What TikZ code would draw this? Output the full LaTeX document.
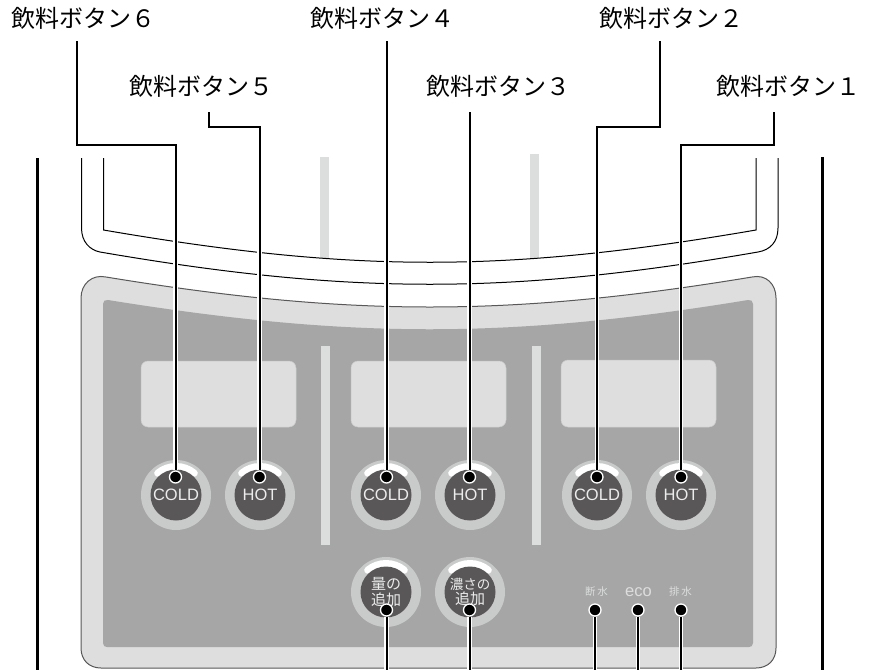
\documentclass[tikz,border=0pt]{standalone}
\usepackage{fontspec}
\setmainfont{Noto Sans CJK JP}
\newfontfamily\latinfont{Liberation Sans}
\definecolor{panelgrey}{HTML}{DEDEDE}
\definecolor{innergrey}{HTML}{A6A6A6}
\definecolor{ringgrey}{HTML}{C9CACA}
\definecolor{facegrey}{HTML}{595757}
\definecolor{bargrey}{HTML}{DCDDDD}
\definecolor{facetext}{HTML}{ECECEC}

\begin{document}
\begin{tikzpicture}[x=1pt,y=-1pt]
	\tikzset{caption/.style={inner sep=0pt,minimum height=24pt,font=\fontsize{24}{24}\selectfont}}
	\tikzset{leader/.style={draw=white,double=black,line width=1.25pt,double distance=2pt}}
	\tikzset{leaddot/.style={circle,draw=white,fill=black,line width=1.3pt,inner sep=0pt,minimum size=12pt}}
	\tikzset{ring/.style={circle,fill=ringgrey,inner sep=0pt,minimum size=70pt}}
	\tikzset{face/.style={circle,fill=facegrey,text=facetext,inner sep=0pt,minimum size=51pt,align=center}}
	\tikzset{glow/.style={draw=white,line width=7pt,line cap=round}}
	\tikzset{display/.style={fill=panelgrey,draw=ringgrey,line width=.5pt,rounded corners=7pt}}
	\tikzset{small/.style={inner sep=0pt,text=bargrey}}
	\tikzset{band/.style={line width=1pt}}
	\tikzset{knob/.pic={
		\node[ring] (-ring) at (0,0) {};
		\draw[glow] (130:28.5pt) arc[start angle=130,end angle=50,radius=28.5pt];
		\node[face] (-face) at (0,0) {#1};
	}}
	\useasboundingbox (0,0) rectangle (871,670);
	\coordinate (bot) at (0,670);

	% case behind the panel
	\draw[line width=3pt] (37,158) -- (37,670);
	\draw[line width=3pt] (822,157) -- (822,670);
	\fill[bargrey] (320,157) rectangle (329,258);
	\fill[bargrey] (530,154) rectangle (539,258);
	\draw[band] (103.5,158) -- (103.5,230) .. controls (354,273) and (506,273) .. (756,230) -- (756,158);
	\draw[band] (81.5,158) -- (81.5,228) .. controls (81.5,242) and (90,250) .. (100,252)
		.. controls (350,295) and (510,295) .. (758,252) .. controls (770,250) and (778,242) .. (778,228) -- (778,158);

	% panel
	\draw[fill=panelgrey,draw=facegrey,line width=1pt] (81,298) .. controls (81,284) and (92,274) .. (106,277)
		.. controls (350,317) and (510,317) .. (752,277) .. controls (766,274) and (776,284) .. (776,298)
		-- (776,648) .. controls (776,660) and (768,668) .. (756,668) -- (101,668) .. controls (89,668) and (81,660) .. (81,648) -- cycle;
	\fill[innergrey] (103,304) .. controls (103,301) and (105,299.5) .. (108,300)
		.. controls (350,339) and (510,339) .. (748,300) .. controls (751,299.5) and (753,301) .. (753,304)
		-- (753,643) .. controls (753,646) and (751,647) .. (749,647) -- (107,647) .. controls (105,647) and (103,646) .. (103,643) -- cycle;
	\fill[bargrey] (321,346) rectangle (330,545);
	\fill[bargrey] (532,346) rectangle (541,545);
	\draw[display] (141,361) rectangle (296,427);
	\draw[display] (351,361) rectangle (506,427);
	\draw[display] (561,360) rectangle (716,427);

	% buttons
	\pic (c6) at (176,495) {knob={\latinfont\fontsize{16.5}{16}\selectfont COLD}};
	\pic (c5) at (260,495) {knob={\latinfont\fontsize{16.5}{16}\selectfont HOT}};
	\pic (c4) at (386,495) {knob={\latinfont\fontsize{16.5}{16}\selectfont COLD}};
	\pic (c3) at (470,495) {knob={\latinfont\fontsize{16.5}{16}\selectfont HOT}};
	\pic (c2) at (597,495) {knob={\latinfont\fontsize{16.5}{16}\selectfont COLD}};
	\pic (c1) at (681,495) {knob={\latinfont\fontsize{16.5}{16}\selectfont HOT}};
	\pic (ca) at (386,592) {knob={\fontsize{15}{17}\selectfont 量の\\[1pt]\fontsize{15}{17}\selectfont 追加}};
	\pic (cb) at (470,592) {knob={\fontsize{13.5}{17}\selectfont 濃さの\\[1pt]\fontsize{15}{17}\selectfont 追加}};

	\node[small,font=\fontsize{10.5}{11}\selectfont] (lamp1) at (596.5,592) {断\,水};
	\node[small,font=\fontsize{16.5}{16}\selectfont\latinfont] (lamp2) at (638.5,592) {eco};
	\node[small,font=\fontsize{10.5}{11}\selectfont] (lamp3) at (680.5,592) {排\,水};

	% captions
	\node[caption] (b6) at (84,18) {飲料ボタン６};
	\node[caption] (b5) at (201,86) {飲料ボタン５};
	\node[caption] (b4) at (382,18) {飲料ボタン４};
	\node[caption] (b3) at (498,86) {飲料ボタン３};
	\node[caption] (b2) at (671,18) {飲料ボタン２};
	\node[caption] (b1) at (788,86) {飲料ボタン１};

	% leaders
	\node[leaddot] (d6) at (175.5,477) {};
	\node[leaddot] (d5) at (259.5,477) {};
	\node[leaddot] (d4) at (386.5,477) {};
	\node[leaddot] (d3) at (469.5,477) {};
	\node[leaddot] (d2) at (597,477) {};
	\node[leaddot] (d1) at (681,477) {};
	\node[leaddot] (d7) at (386.5,610) {};
	\node[leaddot] (d8) at (469.5,610) {};
	\node[leaddot] (d9) at (595,610) {};
	\node[leaddot] (d10) at (638,610) {};
	\node[leaddot] (d11) at (681,610) {};
	\draw[leader] ([xshift=-7pt,yshift=-11pt]b6.south) -- ++(0,104) -| (d6.north);
	\draw[leader] ([xshift=8pt,yshift=-14pt]b5.south) -- ++(0,15) -| (d5.north);
	\draw[leader] ([xshift=4.5pt,yshift=-11pt]b4.south) -- (d4.north);
	\draw[leader] ([xshift=-28.5pt,yshift=-14pt]b3.south) -- (d3.north);
	\draw[leader] ([xshift=-11pt,yshift=-11pt]b2.south) -- ++(0,86) -| (d2.north);
	\draw[leader] ([xshift=-14pt,yshift=-14pt]b1.south) -- ++(0,33) -| (d1.north);
	\draw[leader] (d7.south) -- (d7.south |- bot);
	\draw[leader] (d8.south) -- (d8.south |- bot);
	\draw[leader] (d9.south) -- (d9.south |- bot);
	\draw[leader] (d10.south) -- (d10.south |- bot);
	\draw[leader] (d11.south) -- (d11.south |- bot);
\end{tikzpicture}
\end{document}
